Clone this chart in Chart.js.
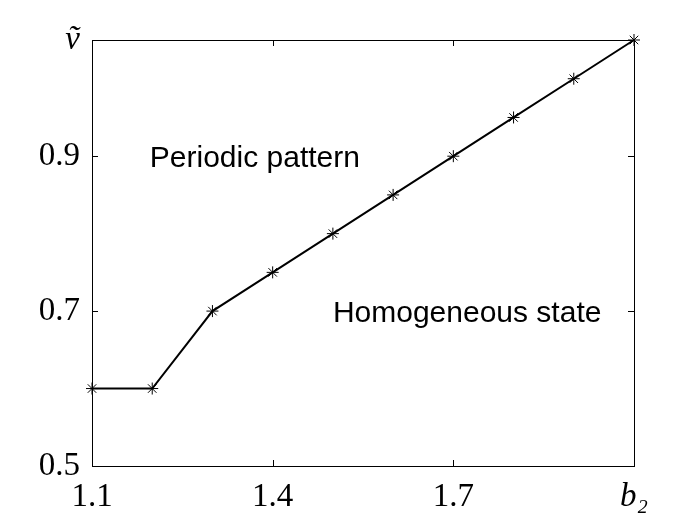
<!DOCTYPE html>
<html>
<head>
<meta charset="utf-8">
<script src="https://cdn.jsdelivr.net/npm/chart.js@4.4.1/dist/chart.umd.min.js"></script>
<style>
  html, body { margin: 0; padding: 0; background: #fff; }
  #wrap { width: 700px; height: 525px; }
</style>
</head>
<body>
<div id="wrap"><canvas id="chart"></canvas></div>
<script>
// b2 vs v~ boundary between the two states
const b2 = [1.1, 1.2, 1.3, 1.4, 1.5, 1.6, 1.7, 1.8, 1.9, 2.0];
const vTilde = [0.6, 0.6, 0.7, 0.75, 0.8, 0.85, 0.9, 0.95, 1.0, 1.05];

const xTicks = [1.1, 1.4, 1.7, 2.0];
const xTickLabels = ['1.1', '1.4', '1.7', 'b\u2082'];
const yTicks = [0.5, 0.7, 0.9, 1.05];
const yTickLabels = ['0.5', '0.7', '0.9', '\u1E7D'];

const regionLabels = ['Periodic pattern', 'Homogeneous state'];
const regionX = [1.196, 1.5];
const regionY = [0.897, 0.697];

const serif = '"Liberation Serif", "DejaVu Serif", serif';

// frame + inward ticks, like the original figure
const framePlugin = {
  id: 'frame',
  afterDatasetsDraw(chart) {
    const { ctx, chartArea: a, scales: { x, y } } = chart;
    ctx.save();
    ctx.strokeStyle = '#000';
    ctx.lineWidth = 1;
    ctx.strokeRect(a.left + 0.5, a.top + 0.5, a.right - a.left, a.bottom - a.top);
    const len = 6;
    ctx.beginPath();
    xTicks.forEach(v => {
      const px = Math.round(x.getPixelForValue(v)) + 0.5;
      ctx.moveTo(px, a.bottom); ctx.lineTo(px, a.bottom - len);
      ctx.moveTo(px, a.top); ctx.lineTo(px, a.top + len);
    });
    yTicks.forEach(v => {
      const py = Math.round(y.getPixelForValue(v)) + 0.5;
      ctx.moveTo(a.left, py); ctx.lineTo(a.left + len, py);
      ctx.moveTo(a.right, py); ctx.lineTo(a.right - len, py);
    });
    ctx.stroke();

    ctx.fillStyle = '#000';
    ctx.font = '30px "Liberation Sans", Arial, sans-serif';
    ctx.textAlign = 'left';
    ctx.textBaseline = 'middle';
    regionLabels.forEach((t, i) => {
      ctx.fillText(t, x.getPixelForValue(regionX[i]), y.getPixelForValue(regionY[i]));
    });
    ctx.restore();
  }
};

new Chart(document.getElementById('chart'), {
  type: 'line',
  data: {
    labels: b2,
    datasets: [{
      data: b2.map((v, i) => ({ x: v, y: vTilde[i] })),
      borderColor: '#000',
      borderWidth: 2,
      pointStyle: 'star',
      pointRadius: 6,
      pointBorderWidth: 1,
      pointBorderColor: '#000',
      pointBackgroundColor: '#000',
      tension: 0,
      clip: false
    }]
  },
  options: {
    responsive: true,
    maintainAspectRatio: false,
    animation: false,
    layout: { padding: { top: 40, right: 66, left: 0, bottom: 0 } },
    plugins: { legend: { display: false }, tooltip: { enabled: false } },
    scales: {
      x: {
        type: 'linear',
        min: 1.1,
        max: 2.0,
        afterBuildTicks: s => { s.ticks = xTicks.map(v => ({ value: v })); },
        afterFit: s => { s.height = 59; },
        grid: { display: false, drawTicks: false },
        border: { display: false },
        ticks: {
          autoSkip: false,
          maxRotation: 0,
          padding: 12,
          color: '#000',
          callback: (v) => xTickLabels[xTicks.indexOf(v)],
          font: (c) => ({ family: serif, size: 33, style: c.tick && c.tick.value === 2.0 ? 'italic' : 'normal' })
        }
      },
      y: {
        type: 'linear',
        min: 0.5,
        max: 1.05,
        afterBuildTicks: s => { s.ticks = yTicks.map(v => ({ value: v })); },
        afterFit: s => { s.width = 92; },
        grid: { display: false, drawTicks: false },
        border: { display: false },
        ticks: {
          autoSkip: false,
          padding: 12,
          color: '#000',
          callback: (v) => yTickLabels[yTicks.indexOf(v)],
          font: (c) => ({ family: serif, size: 33, style: c.tick && c.tick.value === 1.05 ? 'italic' : 'normal' })
        }
      }
    }
  },
  plugins: [framePlugin]
});
</script>
</body>
</html>
